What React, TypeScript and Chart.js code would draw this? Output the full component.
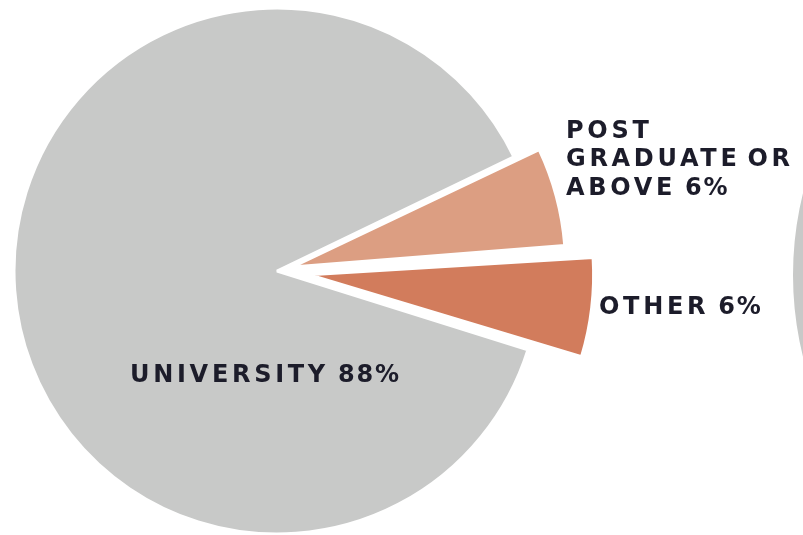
import { useEffect, useRef } from 'react';
import { Chart, registerables } from 'chart.js';

Chart.register(...registerables);

// ---- data ----
const categories = ['POST GRADUATE OR ABOVE', 'OTHER', 'UNIVERSITY'];
const shares = [6, 6, 88];
const labelWords = [['POST', 'GRADUATE OR', 'ABOVE'], ['OTHER'], ['UNIVERSITY']];
const sliceColors = ['#DC9E82', '#D27C5C', '#C8C9C8'];
const sliceOffsets = [64, 132, 0];
// neighbouring (cropped) pie at the right edge
const nextCategories = ['NEXT'];
const nextShares = [100];

const W = 803;
const H = 535;

const labelAnchors = [
  { x: 566, y: 137.5 },
  { x: 599, y: 313.5 },
  { x: 130, y: 382 },
];
const LINE_H = 28.5;
const WORD_FONT = 'bold 24px "DejaVu Sans", sans-serif';
const NUM_FONT = 'bold 24px "DejaVu Sans", sans-serif';

const labelPlugin = {
  id: 'sliceLabels',
  afterDatasetsDraw(chart: any) {
    const ctx = chart.ctx as CanvasRenderingContext2D;
    const ls = (v: string) => {
      if ('letterSpacing' in ctx) (ctx as any).letterSpacing = v;
    };
    ctx.save();
    ctx.fillStyle = '#1c1c2a';
    ctx.textBaseline = 'alphabetic';
    ctx.textAlign = 'left';
    labelWords.forEach((lines, i) => {
      const a = labelAnchors[i];
      lines.forEach((line, j) => {
        const y = a.y + j * LINE_H;
        ctx.font = WORD_FONT;
        ls('3.7px');
        let x = a.x;
        line.split(' ').forEach((word) => {
          ctx.fillText(word, x, y);
          x += ctx.measureText(word).width + 7;
        });
        if (j === lines.length - 1) {
          ctx.font = NUM_FONT;
          ls('1.8px');
          ctx.fillText(shares[i] + '%', x + 2, y);
        }
      });
    });
    ctx.restore();
  },
};

export default function App() {
  const mainRef = useRef<HTMLCanvasElement>(null);
  const nextRef = useRef<HTMLCanvasElement>(null);

  useEffect(() => {
    const main = new Chart(mainRef.current!, {
      type: 'pie',
      data: {
        labels: categories,
        datasets: [
          {
            data: shares,
            backgroundColor: sliceColors,
            borderColor: '#ffffff',
            borderWidth: 3,
            offset: sliceOffsets,
            hoverOffset: 0,
            clip: false as any,
          },
        ],
      },
      options: {
        animation: false,
        responsive: false,
        events: [],
        rotation: 64.25,
        radius: 263,
        layout: { padding: { left: 0, right: W - 2 * 277, top: 2 * 271 - H, bottom: 0 } },
        plugins: { legend: { display: false }, tooltip: { enabled: false } },
      },
      plugins: [labelPlugin],
    });

    const next = new Chart(nextRef.current!, {
      type: 'pie',
      data: {
        labels: nextCategories,
        datasets: [{ data: nextShares, backgroundColor: ['#C8C9C8'], borderWidth: 0, clip: false as any }],
      },
      options: {
        animation: false,
        responsive: false,
        events: [],
        radius: 341,
        layout: { padding: { left: 8, right: 0, top: 15, bottom: 0 } },
        plugins: { legend: { display: false }, tooltip: { enabled: false } },
      },
    });

    return () => {
      main.destroy();
      next.destroy();
    };
  }, []);

  return (
    <div
      style={{
        position: 'absolute',
        left: 0,
        top: 0,
        width: W,
        height: H,
        overflow: 'hidden',
        background: '#ffffff',
      }}
    >
      <canvas
        ref={nextRef}
        width={700}
        height={H}
        style={{ position: 'absolute', left: 780, top: 0, width: 700, height: H }}
      />
      <canvas
        ref={mainRef}
        width={W}
        height={H}
        style={{ position: 'absolute', left: 0, top: 0, width: W, height: H }}
      />
    </div>
  );
}
